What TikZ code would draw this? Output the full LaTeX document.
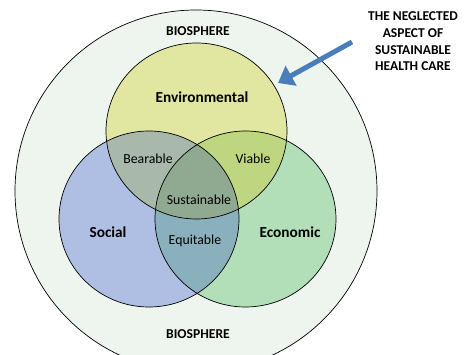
\documentclass[tikz,border=0pt]{standalone}
\usepackage{fontspec}
\setmainfont{Carlito}
\usetikzlibrary{arrows.meta}
\definecolor{bio}{HTML}{EEF5EE}
\definecolor{envc}{HTML}{E1E6A1}
\definecolor{socc}{HTML}{AEBFE3}
\definecolor{ecoc}{HTML}{B2DEB8}
\definecolor{bearc}{HTML}{A8B8AA}
\definecolor{viac}{HTML}{BED680}
\definecolor{susc}{HTML}{8FAA91}
\definecolor{equc}{HTML}{8AB0BE}
\definecolor{arrowc}{HTML}{4A7EBB}
\tikzset{
  ring/.style={draw=black, line width=0.7pt},
  biglabel/.style={font=\bfseries\fontsize{15.3}{17}\selectfont},
  smalllabel/.style={font=\fontsize{13.8}{15}\selectfont},
  biolabel/.style={font=\bfseries\fontsize{13.6}{15}\selectfont},
}
\begin{document}
\begin{tikzpicture}[x=1pt,y=-1pt]
\useasboundingbox (0,0) rectangle (472,355);
\begin{scope}
\clip (0,0) rectangle (472,355);
\fill[bio] (196,191) ellipse [x radius=181, y radius=181];
\draw[ring] (196,191) ellipse [x radius=181, y radius=181];
\end{scope}
% base circles
\fill[envc] (196.5,131) ellipse [x radius=90.5, y radius=88];
\fill[socc] (149,219) ellipse [x radius=90, y radius=88];
\fill[ecoc] (245.5,219) ellipse [x radius=90.5, y radius=88];
% pairwise overlaps
\begin{scope}
\clip (196.5,131) ellipse [x radius=90.5, y radius=88];
\fill[bearc] (149,219) ellipse [x radius=90, y radius=88];
\fill[viac] (245.5,219) ellipse [x radius=90.5, y radius=88];
\end{scope}
\begin{scope}
\clip (149,219) ellipse [x radius=90, y radius=88];
\fill[equc] (245.5,219) ellipse [x radius=90.5, y radius=88];
\end{scope}
\begin{scope}
\clip (196.5,131) ellipse [x radius=90.5, y radius=88];
\clip (149,219) ellipse [x radius=90, y radius=88];
\fill[susc] (245.5,219) ellipse [x radius=90.5, y radius=88];
\end{scope}
% outlines
\draw[ring] (196.5,131) ellipse [x radius=90.5, y radius=88];
\draw[ring] (149,219) ellipse [x radius=90, y radius=88];
\draw[ring] (245.5,219) ellipse [x radius=90.5, y radius=88];
% labels
\node[biolabel] (biotop) at (198,31) {BIOSPHERE};
\node[biolabel] (biobot) at (198,334) {BIOSPHERE};
\node[biglabel] (env) at (202,97) {Environmental};
\node[biglabel] (soc) at (108,232) {Social};
\node[biglabel] (eco) at (290,232) {Economic};
\node[smalllabel] (bear) at (148,159) {Bearable};
\node[smalllabel] (via) at (253,159) {Viable};
\node[smalllabel] (sus) at (199,200) {Sustainable};
\node[smalllabel] (equ) at (195,241) {Equitable};
\node[align=center, font=\bfseries\fontsize{13.5}{16.7}\selectfont] (note) at (413,41.5) {THE NEGLECTED\\ASPECT OF\\SUSTAINABLE\\HEALTH CARE};
% arrow
\coordinate (atail) at (352,42);
\coordinate (ahead) at (278,83);
\draw[arrowc, line width=5pt, -{Triangle[width=22pt,length=15pt]}] (atail) -- (ahead);
\end{tikzpicture}
\end{document}
